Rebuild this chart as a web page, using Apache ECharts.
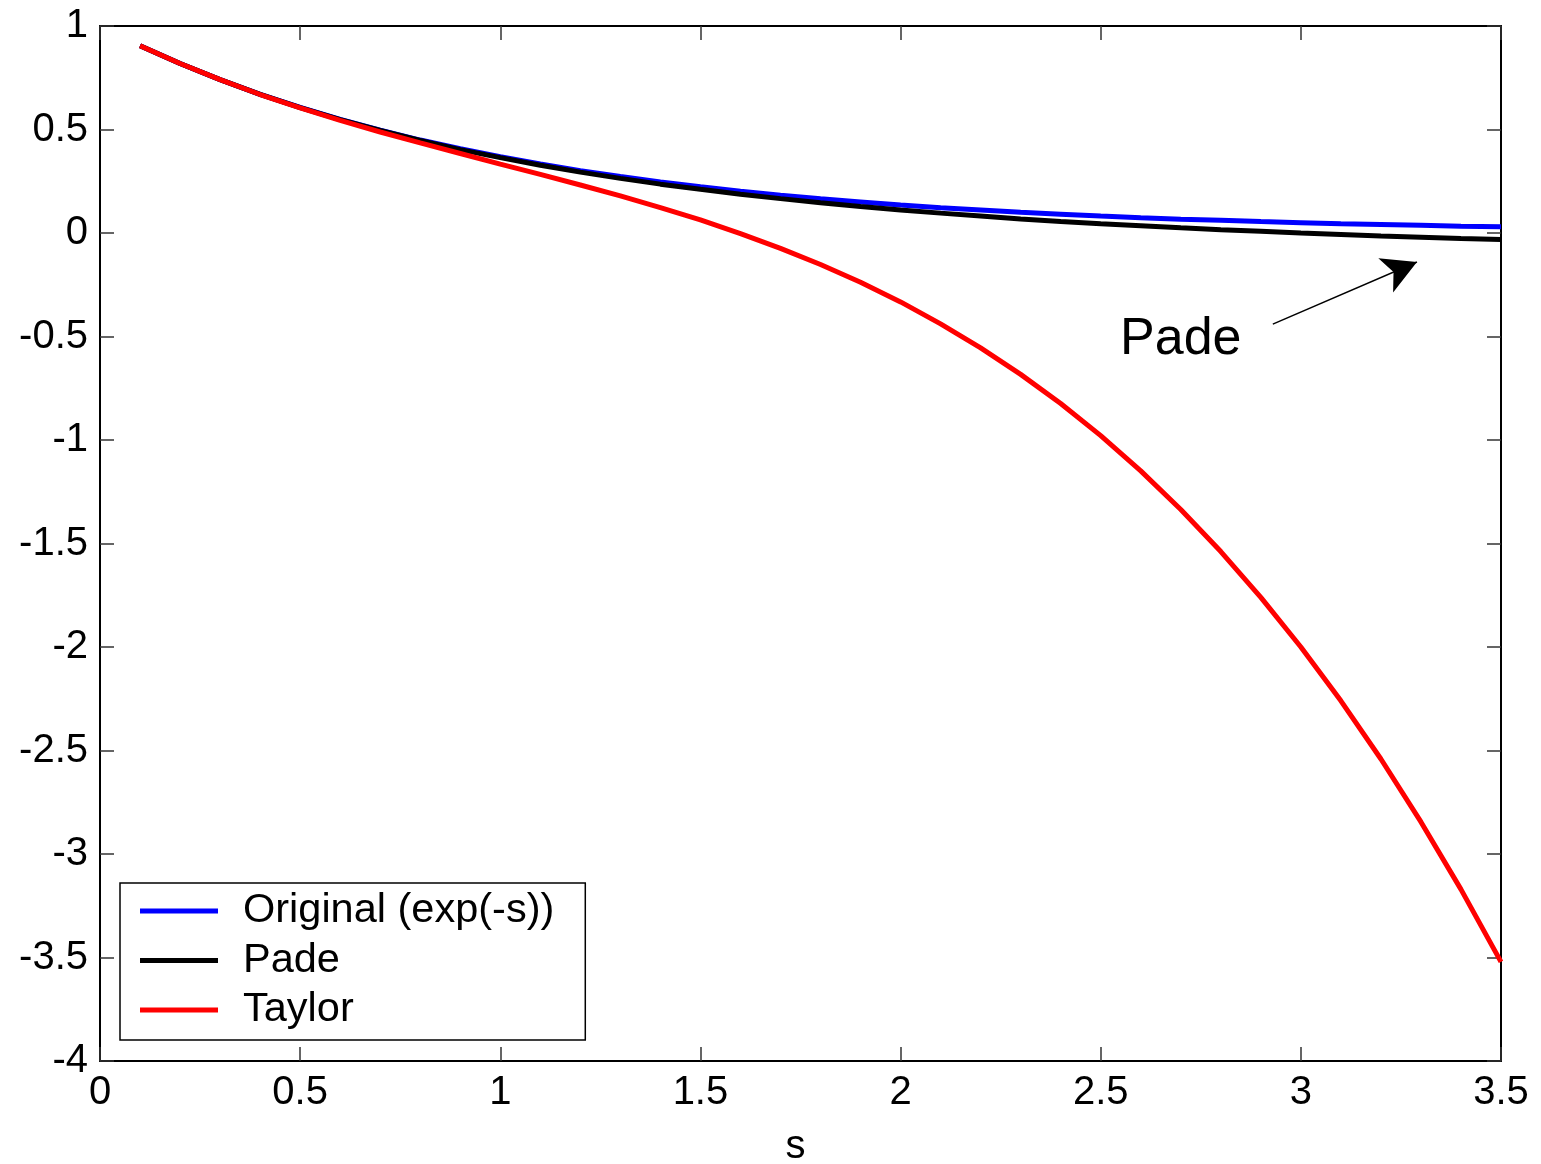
<!DOCTYPE html>
<html>
<head>
<meta charset="utf-8">
<script src="https://cdn.jsdelivr.net/npm/echarts@6/dist/echarts.min.js"></script>
<style>
html,body{margin:0;padding:0;background:#fff;}
#chart{width:1541px;height:1164px;}
</style>
</head>
<body>
<div id="chart"></div>
<script>
const sValues = [0.1,0.2,0.3,0.4,0.5,0.6,0.7,0.8,0.9,1.0,1.1,1.2,1.3,1.4,1.5,1.6,1.7,1.8,1.9,2.0,2.1,2.2,2.3,2.4,2.5,2.6,2.7,2.8,2.9,3.0,3.1,3.2,3.3,3.4,3.5];
const originalValues = [0.905,0.819,0.741,0.670,0.607,0.549,0.497,0.449,0.407,0.368,0.333,0.301,0.273,0.247,0.223,0.202,0.183,0.165,0.150,0.135,0.122,0.111,0.100,0.091,0.082,0.074,0.067,0.061,0.055,0.050,0.045,0.041,0.037,0.033,0.030];
const padeValues = [0.905,0.819,0.741,0.670,0.606,0.548,0.495,0.447,0.403,0.364,0.327,0.294,0.264,0.236,0.211,0.187,0.166,0.146,0.128,0.111,0.096,0.082,0.068,0.056,0.045,0.035,0.025,0.016,0.008,0.000,-0.007,-0.014,-0.020,-0.026,-0.031];
const taylorValues = [0.905,0.819,0.741,0.669,0.604,0.544,0.488,0.435,0.384,0.333,0.283,0.232,0.179,0.123,0.063,-0.003,-0.074,-0.152,-0.238,-0.333,-0.439,-0.555,-0.683,-0.824,-0.979,-1.149,-1.336,-1.539,-1.760,-2.000,-2.260,-2.541,-2.845,-3.171,-3.521];
const seriesNames = ['Original (exp(-s))','Pade','Taylor'];
const annotationText = 'Pade';
const annotationPos = [2.7, -0.515];
const arrowStart = [2.93, -0.44];
const arrowEnd = [3.29, -0.14];

const pairs = (ys) => sValues.map((s,i)=>[s, ys[i]]);
const FONT = 'Liberation Sans, Arial, sans-serif';

const chart = echarts.init(document.getElementById('chart'), null, {renderer:'canvas'});
const axisCommon = {
  axisLine:{show:true, onZero:false, lineStyle:{color:'#000', width:2}},
  axisTick:{show:true, inside:true, length:14, lineStyle:{color:'#333', width:1.5}},
  splitLine:{show:false}
};
chart.setOption({
  backgroundColor:'#fff',
  animation:false,
  grid:{left:100, right:40, top:26, bottom:103, containLabel:false, outerBoundsMode:'none'},
  xAxis:[
    Object.assign({type:'value', min:0, max:3.5, interval:0.5, position:'bottom',
      name:'s', nameLocation:'middle', nameGap:66,
      nameTextStyle:{fontFamily:FONT, fontSize:40, color:'#000', padding:[0,10,0,0]},
      axisLabel:{fontFamily:FONT, fontSize:40, color:'#000', margin:12,
        formatter:(v)=>String(v)}}, axisCommon),
    Object.assign({type:'value', min:0, max:3.5, interval:0.5, position:'top',
      axisLabel:{show:false}}, axisCommon)
  ],
  yAxis:[
    Object.assign({type:'value', min:-4, max:1, interval:0.5, position:'left',
      axisLabel:{fontFamily:FONT, fontSize:40, color:'#000', margin:12,
        formatter:(v)=>String(v)}}, axisCommon),
    Object.assign({type:'value', min:-4, max:1, interval:0.5, position:'right',
      axisLabel:{show:false}}, axisCommon)
  ],
  legend:{
    orient:'vertical', left:120, top:883,
    data:seriesNames,
    icon:'rect', itemWidth:78, itemHeight:5, itemGap:7.5,
    padding:[7,31,9,20],
    borderColor:'#000', borderWidth:1.5, backgroundColor:'#fff',
    textStyle:{fontFamily:FONT, fontSize:41.5, color:'#000', padding:[0,0,0,20]}
  },
  series:[
    {name:seriesNames[0], type:'line', data:pairs(originalValues), showSymbol:false,
      lineStyle:{color:'#0000ff', width:5}, itemStyle:{color:'#0000ff'}, z:2},
    {name:seriesNames[1], type:'line', data:pairs(padeValues), showSymbol:false,
      lineStyle:{color:'#000000', width:5}, itemStyle:{color:'#000000'}, z:3,
      markPoint:{symbol:'circle', symbolSize:0, silent:true,
        data:[{coord:annotationPos, value:annotationText}],
        label:{show:true, position:'inside', formatter:annotationText,
          fontFamily:FONT, fontSize:52, color:'#000'}},
      markLine:{silent:true, symbol:['none','arrow'], symbolSize:[28,34],
        lineStyle:{color:'#000', width:1.5, type:'solid'}, label:{show:false},
        data:[[{coord:arrowStart},{coord:arrowEnd}]]}
    },
    {name:seriesNames[2], type:'line', data:pairs(taylorValues), showSymbol:false,
      lineStyle:{color:'#ff0000', width:5}, itemStyle:{color:'#ff0000'}, z:4}
  ]
});
</script>
</body>
</html>
